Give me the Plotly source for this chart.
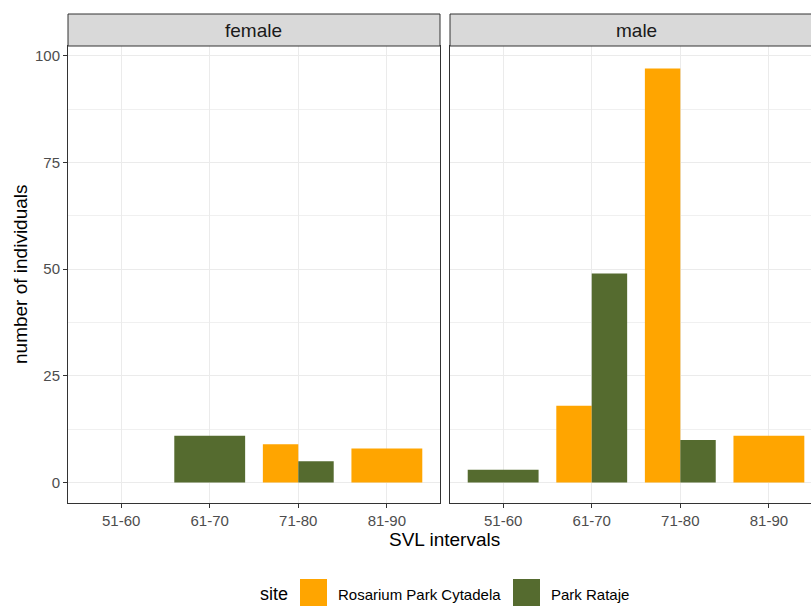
import plotly.graph_objects as go

categories = ["51-60", "61-70", "71-80", "81-90"]
sites = ["Rosarium Park Cytadela", "Park Rataje"]
site_colors = ["#FFA500", "#556B2F"]
panels = ["female", "male"]
# counts per panel, per site (None = no bar)
female_rosarium = [None, None, 9, 8]
female_rataje = [None, 11, 5, None]
male_rosarium = [None, 18, 97, 11]
male_rataje = [3, 49, 10, None]
y_ticks = [0, 25, 50, 75, 100]

data = {"female": [female_rosarium, female_rataje],
        "male": [male_rosarium, male_rataje]}

W, H = 811, 606
ML, MR, MT, MB = 68, 0, 14, 103
PW, PH = W - ML - MR, H - MT - MB
BAR_W = 0.8


def px(x):
    return (x - ML) / PW


def py(y):
    return (H - MB - y) / PH


strip_bottom = py(46)
dom_f = [0, px(440)]
dom_m = [px(450), 1]

fig = go.Figure()
font = "Liberation Sans, Arial, sans-serif"

for pi, panel in enumerate(panels):
    series = data[panel]
    for si, site in enumerate(sites):
        xs, ys, ws, offs = [], [], [], []
        for ci, cat in enumerate(categories):
            v = series[si][ci]
            if v is None:
                continue
            present = [s for s in range(len(sites)) if series[s][ci] is not None]
            n = len(present)
            w = BAR_W / n
            k = present.index(si)
            xs.append(ci + 1)
            ys.append(v)
            ws.append(w)
            offs.append(-BAR_W / 2 + k * w)
        fig.add_trace(go.Bar(
            x=xs, y=ys, width=ws, offset=offs, name=site,
            marker=dict(color=site_colors[si], line=dict(width=0)),
            showlegend=False,
            xaxis="x" if pi == 0 else "x2", yaxis="y" if pi == 0 else "y2",
        ))

yrange = [-4.78, 102.3]
minor = dict(tickvals=[12.5, 37.5, 62.5, 87.5], showgrid=True,
             gridcolor="#F0F0F0", gridwidth=0.7, ticks="")
axis_common = dict(showline=True, linecolor="#333333", linewidth=1,
                   gridcolor="#EBEBEB", gridwidth=1, zeroline=False)
xcommon = dict(axis_common, tickmode="array", tickvals=[1, 2, 3, 4], ticktext=categories,
               ticks="outside", ticklen=4, tickcolor="#333333",
               tickfont=dict(family=font, size=15, color="#4D4D4D"), mirror=True)

fig.update_layout(
    width=W, height=H, margin=dict(l=ML, r=MR, t=MT, b=MB),
    plot_bgcolor="white", paper_bgcolor="white", barmode="overlay",
    xaxis=dict(xcommon, domain=dom_f, range=[0.4, 4.6], anchor="y"),
    xaxis2=dict(xcommon, domain=dom_m, range=[0.4, 4.6 - 11 / 88.3], anchor="y2"),
    yaxis=dict(axis_common, domain=[0, strip_bottom], range=yrange, tickvals=y_ticks,
               ticks="outside", ticklen=4, tickcolor="#333333", mirror=True,
               tickfont=dict(family=font, size=15, color="#4D4D4D"), minor=minor),
    yaxis2=dict(axis_common, domain=[0, strip_bottom], range=yrange, tickvals=y_ticks,
                showticklabels=False, ticks="", anchor="x2", mirror=False, minor=minor),
)

shapes = []
annotations = []
for dom, panel, extra in [(dom_f, "female", 0), (dom_m, "male", 0.02)]:
    shapes.append(dict(type="rect", xref="paper", yref="paper", x0=dom[0], x1=dom[1] + extra,
                       y0=strip_bottom, y1=1, fillcolor="#D9D9D9",
                       line=dict(color="#333333", width=1), layer="above"))
    cx = (dom[0] + dom[1]) / 2 if panel == "female" else (dom[0] + px(822)) / 2
    annotations.append(dict(xref="paper", yref="paper", x=cx,
                            y=(strip_bottom + 1) / 2, text=panel, showarrow=False,
                            font=dict(family=font, size=19, color="#1A1A1A"),
                            xanchor="center", yanchor="middle"))

annotations.append(dict(xref="paper", yref="paper", x=px(20), y=py(274), text="number of individuals",
                        textangle=-90, showarrow=False, font=dict(family=font, size=19, color="black"),
                        xanchor="center", yanchor="middle"))
annotations.append(dict(xref="paper", yref="paper", x=px(445), y=py(539), text="SVL intervals",
                        showarrow=False, font=dict(family=font, size=19, color="black"),
                        xanchor="center", yanchor="middle"))
# legend
annotations.append(dict(xref="paper", yref="paper", x=px(258), y=py(594), text="site",
                        showarrow=False, font=dict(family=font, size=18, color="black"),
                        xanchor="left", yanchor="middle"))
for key_x, lab_x, site, col in [(300, 336, sites[0], site_colors[0]), (513, 549, sites[1], site_colors[1])]:
    shapes.append(dict(type="rect", xref="paper", yref="paper", x0=px(key_x), x1=px(key_x + 27),
                       y0=py(607), y1=py(579), fillcolor=col, line=dict(width=0)))
    annotations.append(dict(xref="paper", yref="paper", x=px(lab_x), y=py(594), text=site,
                            showarrow=False, font=dict(family=font, size=15, color="black"),
                            xanchor="left", yanchor="middle"))

fig.update_layout(shapes=shapes, annotations=annotations)
fig.write_html("out.html", config={"displayModeBar": False})

with open("out.html", encoding="utf-8") as f:
    html = f.read()
html = html.replace("<head>", "<head><style>html,body{margin:0;padding:0;overflow:hidden}</style>", 1)
with open("out.html", "w", encoding="utf-8") as f:
    f.write(html)
